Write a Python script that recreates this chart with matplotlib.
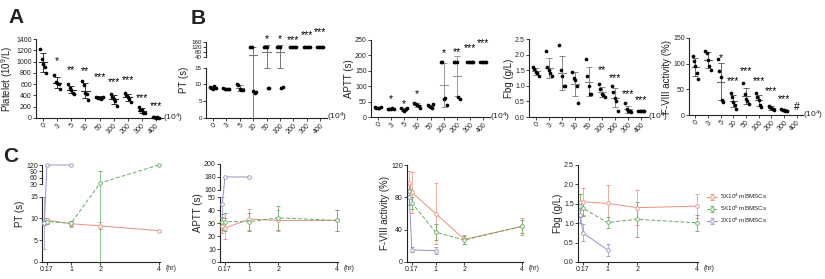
import numpy as np
import matplotlib
matplotlib.use('Agg')
import matplotlib.pyplot as plt
from matplotlib.transforms import blended_transform_factory
from matplotlib.ticker import NullLocator

plt.rcParams['font.family'] = ['Liberation Sans', 'DejaVu Sans']
plt.rcParams['mathtext.fontset'] = 'custom'
plt.rcParams['mathtext.rm'] = 'Liberation Sans'
plt.rcParams['mathtext.it'] = 'Liberation Sans'

# ---------------- data: dose-response (top row) ----------------
doses = ['0', '3', '5', '10', '50', '100', '200', '300', '400']

platelet = [[1220, 1050, 960, 900, 790], [770, 640, 620, 600, 510], [600, 540, 500, 450, 430],
            [660, 580, 450, 420, 320], [380, 360, 350, 330, 380], [420, 370, 330, 310, 220],
            [440, 410, 380, 330, 290], [190, 150, 140, 95, 85], [15, 10, 8, 12, 5]]
platelet_sig = ['', '*', '**', '**', '***', '***', '***', '***', '***']
platelet_sig_y = [np.nan, 1000, 845, 840, 720, 630, 675, 360, 210]

pt = [[9.2, 8.8, 8.5, 9.5, 9.0], [8.8, 8.7, 8.6, 8.7, 8.6], [10, 9.8, 8.5, 8.3, 8.3],
      [120, 120, 8.0, 7.5, 7.8], [120, 120, 120, 9, 9], [120, 120, 120, 8.8, 9.3],
      [120, 120, 120, 120, 120], [120, 120, 120, 120, 120], [120, 120, 120, 120, 120]]
pt_sig = ['', '', '', '', '*', '*', '***', '***', '***']
pt_sig_y = [np.nan, np.nan, np.nan, np.nan, 185, 185, 175, 210, 238]
pt_ticks = [0, 5, 10, 15, 40, 80, 120, 160]
pt_break = (15, 40)

aptt = [[32, 30, 28, 29, 33], [27, 26, 25, 28, 26], [30, 22, 20, 25, 28],
        [45, 42, 40, 35, 30], [38, 35, 32, 28, 42], [180, 180, 60, 62, 38],
        [180, 180, 180, 65, 60], [180, 180, 180, 180, 180], [180, 180, 180, 180, 180]]
aptt_sig = ['', '*', '*', '*', '', '*', '**', '***', '***']
aptt_sig_y = [np.nan, 59, 43, 75, np.nan, 209, 210, 223, 239]

fbg = [[1.6, 1.55, 1.45, 1.4, 1.3], [2.12, 1.6, 1.5, 1.4, 1.3], [2.32, 1.5, 1.3, 1.0, 1.0],
       [1.45, 1.25, 1.2, 1.0, 0.45], [1.85, 1.3, 1.0, 0.75, 0.75], [1.05, 0.9, 0.75, 0.7, 0.65],
       [1.0, 0.8, 0.6, 0.5, 0.2], [0.45, 0.25, 0.2, 0.2, 0.15], [0.2, 0.2, 0.2, 0.2, 0.2]]
fbg_sig = ['', '', '', '', '', '**', '***', '***', '***']
fbg_sig_y = [np.nan, np.nan, np.nan, np.nan, np.nan, 1.49, 1.24, 0.74, 0.55]

f8 = [[115, 105, 95, 82, 70], [125, 120, 108, 95, 88], [110, 85, 75, 30, 25],
      [42, 35, 25, 20, 12], [62, 40, 32, 28, 22], [42, 36, 30, 20, 15],
      [18, 15, 13, 12, 10], [12, 10, 9, 8, 8], []]
f8_sig = ['', '', '*', '***', '***', '***', '***', '***', '#']
f8_sig_y = [np.nan, np.nan, 111, 67, 85, 67, 46, 31, 16]

# ---------------- data: time course (bottom row) ----------------
t_low_high = [0.08, 0.17, 1, 2, 4]
t_top = [0.08, 0.17, 1]
time_ticks = [0.17, 1, 2, 4]
time_labels = ['0.17', '1', '2', '4']
series_names = ['5X10$^4$ mBMSCs', '5X10$^5$ mBMSCs', '2X10$^6$ mBMSCs']

pt_c_red = [9.3, 9.6, 8.8, 8.3, 7.2]
pt_c_red_err = [0.8, 0.6, 0.7, 0.8, 0.2]
pt_c_green = [9.0, 9.3, 8.9, 35, 120]
pt_c_green_err = [0.5, 0.5, 0.6, 55, 0]
pt_c_blue = [9.0, 120, 120]
pt_c_blue_err = [6, 0, 0]
pt_c_ticks = [0, 5, 10, 15, 30, 60, 90, 120]
pt_c_break = (15, 30)

aptt_c_red = [28, 26, 33, 32, 32]
aptt_c_red_err = [6, 8, 8, 8, 8]
aptt_c_green = [31, 31, 31, 34, 32]
aptt_c_green_err = [6, 7, 7, 9, 8]
aptt_c_blue = [45, 180, 180]
aptt_c_blue_err = [10, 0, 0]
aptt_c_ticks = [0, 10, 20, 30, 40, 50, 160, 180, 200]
aptt_c_break = (50, 160)

f8_c_red = [98, 86, 60, 28, 44]
f8_c_red_err = [15, 25, 38, 6, 10]
f8_c_green = [88, 73, 37, 27, 44]
f8_c_green_err = [8, 8, 10, 5, 8]
f8_c_blue = [80, 15, 14]
f8_c_blue_err = [10, 3, 4]

fbg_c_red = [1.55, 1.55, 1.51, 1.40, 1.44]
fbg_c_red_err = [0.2, 0.35, 0.48, 0.45, 0.3]
fbg_c_green = [1.45, 1.38, 1.02, 1.10, 1.01]
fbg_c_green_err = [0.3, 0.2, 0.15, 0.45, 0.2]
fbg_c_blue = [1.2, 0.75, 0.31]
fbg_c_blue_err = [0.2, 0.22, 0.15]

# ---------------- styling ----------------
RED = '#e8917c'
GREEN = '#62ad62'
BLUE = '#9494c4'
TXT = '#222222'
LW = 0.8
TICK_FS = 5
LABEL_FS = 7


def pw(x, xp, fp):
    x = np.asarray(x, float)
    y = np.interp(x, xp, fp)
    y = np.where(x < xp[0], fp[0] + (x - xp[0]) * (fp[1] - fp[0]) / (xp[1] - xp[0]), y)
    y = np.where(x > xp[-1], fp[-1] + (x - xp[-1]) * (fp[-1] - fp[-2]) / (xp[-1] - xp[-2]), y)
    return y


def broken_scale(ax, kd, ko, top):
    fwd = lambda v: pw(v, kd, ko)
    inv = lambda v: pw(v, ko, kd)
    ax.set_yscale('function', functions=(fwd, inv))
    ax.set_ylim(0, top)
    ax.yaxis.set_minor_locator(NullLocator())
    ax.spines['left'].set_visible(False)
    tr = blended_transform_factory(ax.transAxes, ax.transData)
    ax.plot([0, 0], [0, kd[1]], transform=tr, color=TXT, lw=LW, clip_on=False)
    ax.plot([0, 0], [kd[2], top], transform=tr, color=TXT, lw=LW, clip_on=False)


def style(ax):
    for s in ['top', 'right']:
        ax.spines[s].set_visible(False)
    for s in ['left', 'bottom']:
        ax.spines[s].set_linewidth(LW)
        ax.spines[s].set_color(TXT)
    ax.tick_params(length=2, width=0.6, labelsize=TICK_FS, pad=1, colors=TXT)


def scatter_panel(ax, groups, sig, sig_y, ecol):
    for i, g in enumerate(groups):
        g = np.asarray(g, float)
        if g.size:
            offs = np.linspace(-0.22, 0.22, g.size)
            ax.scatter(i + offs, g, s=7, color='k', zorder=3, linewidths=0, clip_on=False)
            m = g.mean()
            sd = g.std(ddof=1)
            ax.errorbar(i, m, yerr=sd, fmt='none', ecolor=ecol, elinewidth=0.7,
                        capsize=2, capthick=0.7, zorder=2)
            ax.plot([i - 0.3, i + 0.3], [m, m], color=ecol, lw=0.8, zorder=2)
        if sig[i]:
            ax.text(i, sig_y[i], sig[i], ha='center', va='center', fontsize=7.5,
                    color='k', clip_on=False)
    ax.set_xlim(-0.5, 8.5)
    ax.set_xticks(range(len(doses)))
    ax.set_xticklabels(doses, rotation=45, ha='right', rotation_mode='anchor')
    ax.text(1.0, 0, '(10$^4$)', transform=ax.transAxes, ha='left', va='center',
            fontsize=6, color=TXT)
    style(ax)


fig = plt.figure(figsize=(8.25, 2.79), dpi=100)
W, H = 825.0, 279.0


def add_ax(x0, x1, ytop, ybot):
    return fig.add_axes([x0 / W, 1 - ybot / H, (x1 - x0) / W, (ybot - ytop) / H])


# ---- A ----
axA = add_ax(36, 163, 39, 118)
scatter_panel(axA, platelet, platelet_sig, platelet_sig_y, '#333333')
axA.set_ylim(0, 1400)
axA.set_yticks(np.arange(0, 1401, 200))
axA.set_ylabel('Platelet (10$^9$/L)', fontsize=LABEL_FS, labelpad=1, color=TXT)

# ---- B PT ----
axPT = add_ax(206, 327, 41.7, 117.7)
broken_scale(axPT, [0, pt_break[0], pt_break[1], 160], [0, 0.658, 0.803, 1.0], 160)
scatter_panel(axPT, pt, pt_sig, pt_sig_y, '#777777')
axPT.set_yticks(pt_ticks)
axPT.set_yticklabels([str(v) for v in pt_ticks])
axPT.tick_params(axis='y', labelsize=4.5)
axPT.set_ylabel('PT (s)', fontsize=LABEL_FS, labelpad=2, color=TXT)

# ---- B APTT ----
axAP = add_ax(371, 490, 40, 117)
scatter_panel(axAP, aptt, aptt_sig, aptt_sig_y, '#999999')
axAP.set_ylim(0, 250)
axAP.set_yticks(np.arange(0, 251, 50))
axAP.set_ylabel('APTT (s)', fontsize=LABEL_FS, labelpad=1, color=TXT)

# ---- B Fbg ----
axFb = add_ax(529, 648, 39, 117)
scatter_panel(axFb, fbg, fbg_sig, fbg_sig_y, '#888888')
axFb.set_ylim(0, 2.5)
axFb.set_yticks(np.arange(0, 2.51, 0.5))
axFb.set_yticklabels(['%.1f' % v for v in np.arange(0, 2.51, 0.5)])
axFb.set_ylabel('Fbg (g/L)', fontsize=LABEL_FS, labelpad=1, color=TXT)

# ---- B F-VIII ----
axF8 = add_ax(689, 803, 38, 115)
scatter_panel(axF8, f8, f8_sig, f8_sig_y, '#666666')
axF8.set_ylim(0, 150)
axF8.set_yticks([0, 50, 100, 150])
axF8.set_ylabel('F-VIII activity (%)', fontsize=LABEL_FS, labelpad=1, color=TXT)


# ---- C panels ----
def line_panel(ax, red, red_e, green, green_e, blue, blue_e, ylabel):
    kw = dict(marker='o', ms=2.6, mfc='white', mew=0.6, lw=0.7, elinewidth=0.5,
              capsize=1.5, capthick=0.5, clip_on=True)
    ax.errorbar(t_low_high, red, yerr=red_e, color=RED, ls='-', label=series_names[0], **kw)
    ax.errorbar(t_low_high, green, yerr=green_e, color=GREEN, ls=(0, (4, 2)),
                label=series_names[1], **kw)
    ax.errorbar(t_top, blue, yerr=blue_e, color=BLUE, ls='-', label=series_names[2], **kw)
    for ln in ax.lines:
        ln.set_clip_on(False)
    ax.set_xlim(0, 4.05)
    ax.set_xticks(time_ticks)
    ax.set_xticklabels(time_labels)
    ax.text(1.05, -0.035, '(hr)', transform=ax.transAxes, ha='left', va='top',
            fontsize=TICK_FS, color=TXT)
    ax.set_ylabel(ylabel, fontsize=LABEL_FS, labelpad=1, color=TXT)
    style(ax)


axC1 = add_ax(42, 160, 165, 262)
broken_scale(axC1, [0, pt_c_break[0], pt_c_break[1], 120], [0, 0.673, 0.804, 1.0], 120)
line_panel(axC1, pt_c_red, pt_c_red_err, pt_c_green, pt_c_green_err, pt_c_blue, pt_c_blue_err, 'PT (s)')
axC1.set_yticks(pt_c_ticks)
axC1.set_yticklabels([str(v) for v in pt_c_ticks])

axC2 = add_ax(220, 338, 164, 262)
broken_scale(axC2, [0, aptt_c_break[0], aptt_c_break[1], 200], [0, 0.663, 0.735, 1.0], 200)
line_panel(axC2, aptt_c_red, aptt_c_red_err, aptt_c_green, aptt_c_green_err, aptt_c_blue,
           aptt_c_blue_err, 'APTT (s)')
axC2.set_yticks(aptt_c_ticks)
axC2.set_yticklabels([str(v) for v in aptt_c_ticks])

axC3 = add_ax(407, 523, 165, 262)
line_panel(axC3, f8_c_red, f8_c_red_err, f8_c_green, f8_c_green_err, f8_c_blue, f8_c_blue_err,
           'F-VIII activity (%)')
axC3.set_ylim(0, 120)
axC3.set_yticks([0, 40, 80, 120])

axC4 = add_ax(578, 698, 165, 262)
line_panel(axC4, fbg_c_red, fbg_c_red_err, fbg_c_green, fbg_c_green_err, fbg_c_blue, fbg_c_blue_err,
           'Fbg (g/L)')
axC4.set_ylim(0, 2.5)
axC4.set_yticks(np.arange(0, 2.51, 0.5))
axC4.set_yticklabels(['%.1f' % v for v in np.arange(0, 2.51, 0.5)])
axC4.legend(loc='center left', bbox_to_anchor=(1.03, 0.55), frameon=False, fontsize=4.5,
            handlelength=1.6, handletextpad=0.5, labelspacing=0.4, labelcolor=TXT)

# panel letters
fig.text(8 / W, 1 - 8 / H, 'A', fontsize=15, fontweight='bold', va='top', ha='left', color=TXT)
fig.text(191 / W, 1 - 9 / H, 'B', fontsize=15, fontweight='bold', va='top', ha='left', color=TXT)
fig.text(3 / W, 1 - 147 / H, 'C', fontsize=15, fontweight='bold', va='top', ha='left', color=TXT)

fig.savefig('out.png', dpi=100)
